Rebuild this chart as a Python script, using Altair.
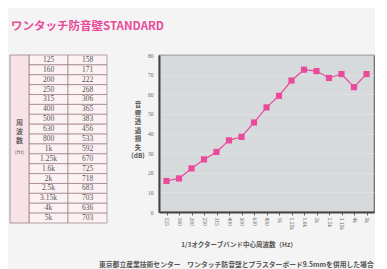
import altair as alt
import pandas as pd

freqs = ["125", "160", "200", "250", "315", "400", "500", "630", "800", "1k",
         "1.25k", "1.6k", "2k", "2.5k", "3.15k", "4k", "5k"]
loss_db = [15.8, 17.1, 22.2, 26.8, 30.6, 36.5, 38.3, 45.6, 53.3, 59.2,
           67.0, 72.5, 71.8, 68.3, 70.3, 63.6, 70.3]
table_labels = ["158", "171", "222", "268", "306", "365", "383", "456", "533", "592",
                "670", "725", "718", "683", "703", "636", "703"]
y_ticks = [0, 10, 20, 30, 40, 50, 60, 70, 80]

title_text = "ワンタッチ防音壁STANDARD"
x_title = "1/3オクターブバンド中心周波数（Hz）"
y_title = "音\n響\n透\n過\n損\n失\n(dB)"
table_head = "周\n波\n数"
table_unit = "(Hz)"
footer = "東京都立産業技術センター　ワンタッチ防音壁とプラスターボード9.5mmを併用した場合"

df = pd.DataFrame({"freq": freqs, "loss": loss_db, "label": table_labels})
cells = pd.concat([
    pd.DataFrame({"freq": freqs, "col": "f", "text": freqs}),
    pd.DataFrame({"freq": freqs, "col": "v", "text": table_labels}),
])

JP = "Noto Sans CJK JP"
NUM = "Liberation Sans Narrow"
PINK = "#ea4a9a"
TH = 168

one = alt.Data(values=[{"k": 1}])

# table: header column drawn left of the body panel
head_rect = alt.Chart(one).mark_rect(fill="#f8e2e7", stroke="#9a7e82", strokeWidth=0.8).encode(
    x=alt.value(-19), x2=alt.value(0), y=alt.value(0), y2=alt.value(TH))
head_txt = alt.Chart(one).mark_text(
    font=JP, fontSize=7, color="#666", lineBreak="\n", lineHeight=9, fontWeight="bold",
    baseline="top"
).encode(x=alt.value(-9.5), y=alt.value(64), text=alt.value(table_head))
unit_txt = alt.Chart(one).mark_text(font=JP, fontSize=5, color="#666").encode(
    x=alt.value(-9.5), y=alt.value(97), text=alt.value(table_unit))

xs = alt.X("col:N", scale=alt.Scale(domain=["f", "v"], paddingInner=0, paddingOuter=0), axis=None)
ys = alt.Y("freq:N", sort=freqs, scale=alt.Scale(paddingInner=0, paddingOuter=0), axis=None)
cell_rect = alt.Chart(cells).mark_rect(fill="#fcf1f3", stroke="#9a7e82", strokeWidth=0.7).encode(
    x=xs, y=ys)
cell_txt = alt.Chart(cells).mark_text(font=NUM, fontSize=7.5, color="#555").encode(
    x=xs, y=ys, text="text:N")
table = alt.layer(cell_rect, cell_txt, head_rect, head_txt, unit_txt).properties(
    width=78, height=TH)

# line chart
PW, PH = 215, 157
xb = alt.X("freq:N", sort=freqs, scale=alt.Scale(padding=0.6),
           axis=alt.Axis(title=None, labelAngle=90, labelFontSize=5.5, labelColor="#666",
                         labelFont=NUM, tickColor="#666", tickSize=3, labelOverlap=False,
                         domainColor="#444", domainWidth=2, labelPadding=2))
yb = alt.Y("loss:Q", scale=alt.Scale(domain=[0, 80], nice=False),
           axis=alt.Axis(title=None, values=y_ticks, labelFontSize=5.5, labelColor="#666",
                         labelOverlap=False, labelFont=NUM, labelBound=False,
                         ticks=False, labelPadding=6, domainColor="#444", domainWidth=2,
                         grid=True, gridColor="#e3e5e6", gridWidth=0.6))
line = alt.Chart(df).mark_line(color=PINK, strokeWidth=1.2).encode(x=xb, y=yb)
pts = alt.Chart(df).mark_point(shape="square", filled=True, size=38, color=PINK,
                               opacity=1).encode(x=xb, y=yb)
ytitle = alt.Chart(one).mark_text(
    font=JP, fontSize=6.5, color="#555", lineBreak="\n", lineHeight=8.5, fontWeight="bold",
    baseline="top"
).encode(x=alt.value(-21), y=alt.value(47), text=alt.value(y_title))
xtitle = alt.Chart(one).mark_text(font=JP, fontSize=6.5, color="#555", fontWeight="bold").encode(
    x=alt.value(80), y=alt.value(190), text=alt.value(x_title))
foot = alt.Chart(one).mark_text(font=JP, fontSize=6.8, color="#555", fontWeight="bold",
                                align="left").encode(
    x=alt.value(-60), y=alt.value(210), text=alt.value(footer))

plot = alt.layer(line, pts, ytitle, xtitle, foot).properties(
    width=PW, height=PH,
    view=alt.ViewBackground(fill="#d7dadc", stroke="#666", strokeWidth=1.2))

chart = alt.hconcat(table, plot, spacing=52, bounds="flush").properties(
    title=alt.TitleParams(title_text, anchor="start", font=JP, fontSize=11.5,
                          fontWeight="bold", color=PINK, offset=20, frame="group", dx=-18),
    padding={"left": 1, "top": 12, "right": 0, "bottom": 0},
    background="#f4f4f4",
).configure_view(stroke=None)

chart.save("out.html", embed_options={"renderer": "svg", "actions": False})
